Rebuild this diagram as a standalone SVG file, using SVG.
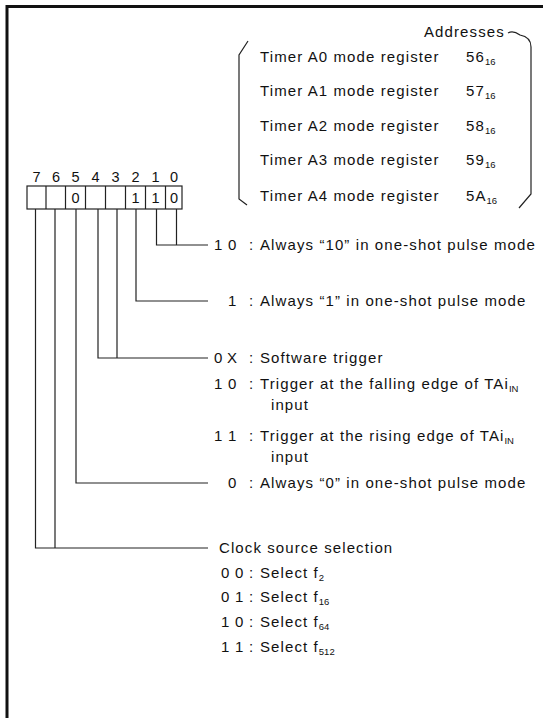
<svg xmlns="http://www.w3.org/2000/svg" width="543" height="718" viewBox="0 0 543 718">
<style>
text{font-family:"Liberation Sans",Arial,sans-serif;font-size:15px;fill:#111;letter-spacing:1.1px}
.ln{fill:none;stroke:#222;stroke-width:1.2}
.sub{font-size:9.5px;letter-spacing:0}
.c{letter-spacing:0}
.bit{font-size:14.5px;letter-spacing:0}
</style>
<rect width="543" height="718" fill="#fff"/>
<path d="M7 718 L7 6.5 L543 6.5" fill="none" stroke="#111" stroke-width="3"/>

<g id="addresses-block">
<path class="ln" d="M248 41 L239 55 L239 199 L247 205"/>
<path class="ln" d="M508 33 Q513 30 520 35 Q531 37 531 47 L531 194 L519 208"/>
<text x="424" y="37">Addresses</text>
<text x="260" y="62">Timer A0 mode register</text>
<text x="260" y="96">Timer A1 mode register</text>
<text x="260" y="131">Timer A2 mode register</text>
<text x="260" y="165">Timer A3 mode register</text>
<text x="260" y="201">Timer A4 mode register</text>
<text x="466" y="62">56<tspan class="sub" dy="3">16</tspan></text>
<text x="466" y="96">57<tspan class="sub" dy="3">16</tspan></text>
<text x="466" y="131">58<tspan class="sub" dy="3">16</tspan></text>
<text x="466" y="165">59<tspan class="sub" dy="3">16</tspan></text>
<text x="466" y="201">5A<tspan class="sub" dy="3">16</tspan></text>
</g>

<g id="register">
<rect class="ln" x="27" y="186" width="155" height="23"/>
<path class="ln" d="M46 186V209M65.5 186V209M85.5 186V209M105.5 186V209M125.5 186V209M145.5 186V209M165.5 186V209"/>
<g text-anchor="middle">
<text class="bit" x="36.5" y="182">7</text><text class="bit" x="56" y="182">6</text><text class="bit" x="75.5" y="182">5</text><text class="bit" x="95.5" y="182">4</text>
<text class="bit" x="115.5" y="182">3</text><text class="bit" x="135.5" y="182">2</text><text class="bit" x="155.5" y="182">1</text><text class="bit" x="174" y="182">0</text>
<text class="bit" x="75.5" y="203">0</text><text class="bit" x="135.5" y="203">1</text><text class="bit" x="155.5" y="203">1</text><text class="bit" x="174" y="203">0</text>
</g>
</g>

<g id="connectors">
<path class="ln" d="M156.5 209V245H208M176.5 209V245"/>
<path class="ln" d="M136 209V301H208"/>
<path class="ln" d="M98 209V358H208M117 209V358"/>
<path class="ln" d="M76 209V483H208"/>
<path class="ln" d="M35.5 209V548H208M55 209V548"/>
</g>

<g id="bits-1-0">
<text class="c" x="214" y="250">1<tspan x="228">0</tspan></text><text x="249" y="250">:</text>
<text x="260" y="250">Always “10” in one-shot pulse mode</text>
</g>
<g id="bit-2">
<text class="c" x="228" y="306">1</text><text x="249" y="306">:</text>
<text x="260" y="306">Always “1” in one-shot pulse mode</text>
</g>
<g id="bits-4-3">
<text class="c" x="214" y="363">0<tspan x="227">X</tspan></text><text x="249" y="363">:</text>
<text x="260" y="363">Software trigger</text>
<text class="c" x="214" y="389">1<tspan x="228">0</tspan></text><text x="249" y="389">:</text>
<text x="260" y="389">Trigger at the falling edge of TAi<tspan class="sub" dy="3">IN</tspan></text>
<text x="271" y="410">input</text>
<text class="c" x="214" y="441">1<tspan x="228">1</tspan></text><text x="249" y="441">:</text>
<text x="260" y="441">Trigger at the rising edge of TAi<tspan class="sub" dy="3">IN</tspan></text>
<text x="271" y="462">input</text>
</g>
<g id="bit-5">
<text class="c" x="228" y="488">0</text><text x="249" y="488">:</text>
<text x="260" y="488">Always “0” in one-shot pulse mode</text>
</g>
<g id="bits-7-6">
<text x="219" y="553">Clock source selection</text>
<text class="c" x="221" y="578">0<tspan x="235">0</tspan></text><text x="249" y="578">:</text><text x="260" y="578">Select f<tspan class="sub" dy="3">2</tspan></text>
<text class="c" x="221" y="602">0<tspan x="235">1</tspan></text><text x="249" y="602">:</text><text x="260" y="602">Select f<tspan class="sub" dy="3">16</tspan></text>
<text class="c" x="221" y="627">1<tspan x="235">0</tspan></text><text x="249" y="627">:</text><text x="260" y="627">Select f<tspan class="sub" dy="3">64</tspan></text>
<text class="c" x="221" y="652">1<tspan x="235">1</tspan></text><text x="249" y="652">:</text><text x="260" y="652">Select f<tspan class="sub" dy="3">512</tspan></text>
</g>
</svg>
